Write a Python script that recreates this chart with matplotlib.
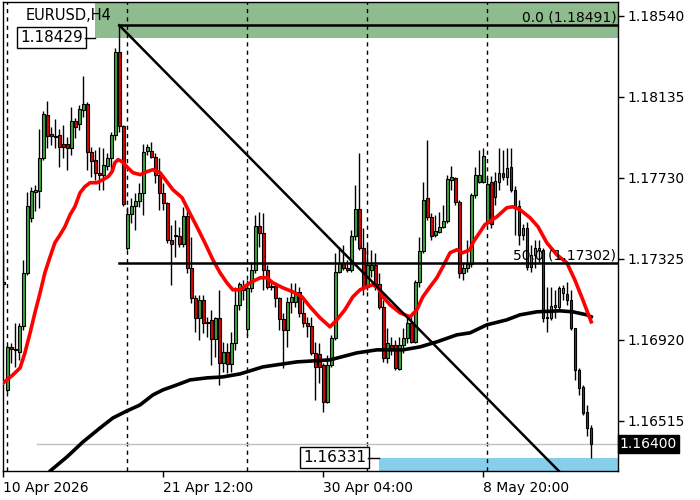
import matplotlib
matplotlib.use('Agg')
import matplotlib.pyplot as plt
from matplotlib.patches import Rectangle
import matplotlib.transforms as mtrans

# ---------------- data (EURUSD H4) ----------------
opens = [1.17210,1.16670,1.16885,1.16875,1.16860,1.16990,1.17255,1.17530,1.17660,1.17665,
         1.17830,1.18045,1.17950,1.17940,1.17945,1.17900,1.17900,1.17880,1.18015,1.18000,
         1.18070,1.18100,1.17860,1.17820,1.17755,1.17745,1.17790,1.17830,1.17945,1.18360,
         1.17990,1.17380,1.17550,1.17590,1.17615,1.17655,1.17865,1.17865,1.17835,1.17745,
         1.17655,1.17605,1.17420,1.17445,1.17440,1.17400,1.17540,1.17280,1.17130,1.17030,
         1.17120,1.17010,1.17020,1.16925,1.17030,1.16805,1.16860,1.16800,1.16905,1.17095,
         1.17190,1.16975,1.17180,1.17270,1.17490,1.17455,1.17270,1.17190,1.17190,1.17130,
         1.17025,1.16970,1.17110,1.17110,1.17160,1.17055,1.17005,1.16990,1.16855,1.16850,
         1.16795,1.16610,1.16795,1.16930,1.17260,1.17305,1.17280,1.17270,1.17440,1.17575,
         1.17380,1.17185,1.17270,1.17295,1.17200,1.17085,1.16830,1.16895,1.16895,1.16775,
         1.16895,1.16930,1.17005,1.16910,1.17210,1.17365,1.17630,1.17535,1.17445,1.17460,
         1.17485,1.17515,1.17720,1.17730,1.17610,1.17255,1.17280,1.17300,1.17645,1.17710,
         1.17710,1.17505,1.17710,1.17635,1.17710,1.17755,1.17735,1.17785,1.17670,1.17590,
         1.17445,1.17480,1.17285,1.17345,1.17370,1.17370,1.17035,1.17030,1.17085,1.17085,
         1.17155,1.17150,1.17120,1.16980,1.16770,1.16685,1.16560,1.16480]
highs = [1.17360,1.16895,1.16905,1.17005,1.17005,1.17320,1.17660,1.17685,1.17695,1.17975,
         1.18065,1.18115,1.17985,1.18025,1.17975,1.17995,1.17935,1.18085,1.18030,1.18095,
         1.18240,1.18110,1.17885,1.17870,1.17885,1.17880,1.17855,1.17960,1.18380,1.18491,
         1.17995,1.17585,1.17630,1.17655,1.17705,1.17900,1.17900,1.17910,1.17855,1.17830,
         1.17705,1.17610,1.17495,1.17520,1.17485,1.17585,1.17570,1.17435,1.17145,1.17145,
         1.17145,1.17035,1.17070,1.17035,1.17170,1.16910,1.16905,1.16960,1.17185,1.17210,
         1.17220,1.17220,1.17310,1.17545,1.17560,1.17555,1.17295,1.17210,1.17210,1.17135,
         1.17055,1.17135,1.17205,1.17205,1.17185,1.17120,1.17035,1.17035,1.16910,1.16905,
         1.16805,1.16845,1.16945,1.17355,1.17385,1.17395,1.17320,1.17470,1.17695,1.17855,
         1.17480,1.17395,1.17370,1.17355,1.17255,1.17120,1.16980,1.16935,1.16920,1.16935,
         1.16980,1.17030,1.17035,1.17220,1.17435,1.17710,1.17920,1.17555,1.17545,1.17560,
         1.17595,1.17745,1.17790,1.17735,1.17620,1.17305,1.17420,1.17655,1.17785,1.17870,
         1.17880,1.17730,1.17740,1.17760,1.17880,1.17870,1.17880,1.17880,1.17690,1.17620,
         1.17500,1.17510,1.17395,1.17420,1.17420,1.17380,1.17185,1.17185,1.17170,1.17190,
         1.17195,1.17210,1.17170,1.16980,1.16780,1.16695,1.16595,1.16495]
lows = [1.17170,1.16660,1.16805,1.16785,1.16820,1.16970,1.17245,1.17510,1.17565,1.17580,
        1.17820,1.17880,1.17895,1.17880,1.17785,1.17830,1.17770,1.17845,1.17930,1.17970,
        1.18035,1.17770,1.17735,1.17720,1.17670,1.17670,1.17770,1.17755,1.17920,1.17960,
        1.17590,1.17370,1.17505,1.17470,1.17585,1.17545,1.17845,1.17830,1.17705,1.17570,
        1.17570,1.17405,1.17195,1.17335,1.17385,1.17385,1.17255,1.17105,1.16960,1.16920,
        1.16955,1.16935,1.16795,1.16835,1.16695,1.16760,1.16755,1.16760,1.16870,1.17070,
        1.17120,1.16945,1.17160,1.17255,1.17385,1.17170,1.17175,1.17170,1.17085,1.16970,
        1.16780,1.16885,1.17055,1.17085,1.17035,1.16985,1.16935,1.16845,1.16620,1.16705,
        1.16560,1.16605,1.16785,1.16920,1.17255,1.17270,1.17260,1.17260,1.17420,1.17370,
        1.17145,1.17170,1.17235,1.17170,1.17075,1.16810,1.16805,1.16845,1.16770,1.16770,
        1.16855,1.16905,1.16905,1.16905,1.17185,1.17355,1.17520,1.17420,1.17435,1.17455,
        1.17480,1.17505,1.17670,1.17595,1.17230,1.17220,1.17260,1.17285,1.17630,1.17705,
        1.17705,1.17495,1.17480,1.17595,1.17670,1.17720,1.17695,1.17660,1.17445,1.17395,
        1.17420,1.17270,1.17260,1.17280,1.17310,1.17010,1.16960,1.17020,1.17030,1.17070,
        1.17120,1.17095,1.16970,1.16720,1.16645,1.16545,1.16440,1.16331]
closes = [1.17200,1.16885,1.16875,1.16870,1.16990,1.17255,1.17590,1.17665,1.17670,1.17830,
          1.18050,1.17940,1.17940,1.17935,1.17885,1.17885,1.17880,1.18015,1.17985,1.18075,
          1.18100,1.17860,1.17815,1.17755,1.17745,1.17795,1.17830,1.17945,1.18360,1.17990,
          1.17600,1.17550,1.17590,1.17615,1.17655,1.17860,1.17885,1.17835,1.17745,1.17655,
          1.17605,1.17420,1.17400,1.17440,1.17400,1.17540,1.17280,1.17130,1.17030,1.17120,
          1.17005,1.17005,1.16925,1.17030,1.16805,1.16860,1.16800,1.16905,1.17095,1.17200,
          1.17170,1.17180,1.17270,1.17490,1.17455,1.17270,1.17185,1.17185,1.17130,1.17025,
          1.16970,1.17110,1.17135,1.17160,1.17055,1.17005,1.16990,1.16855,1.16785,1.16785,
          1.16610,1.16795,1.16930,1.17260,1.17305,1.17280,1.17270,1.17440,1.17575,1.17380,
          1.17185,1.17295,1.17295,1.17200,1.17085,1.16830,1.16905,1.16880,1.16780,1.16895,
          1.16930,1.17005,1.16910,1.17210,1.17365,1.17620,1.17535,1.17440,1.17465,1.17485,
          1.17515,1.17725,1.17735,1.17610,1.17255,1.17280,1.17300,1.17645,1.17745,1.17745,
          1.17840,1.17700,1.17500,1.17715,1.17755,1.17735,1.17780,1.17670,1.17590,1.17445,
          1.17480,1.17285,1.17345,1.17380,1.17380,1.17030,1.17030,1.17090,1.17095,1.17180,
          1.17180,1.17120,1.16980,1.16770,1.16680,1.16555,1.16480,1.16400]

# moving averages (bar position, price)
ma_fast_idx = [0,2.4,4.2,5.4,6.7,7.9,9.2,10.4,11.7,12.9,14.2,15.4,16.7,17.9,19.2,20.4,21.7,
               23.4,24.9,26.2,27.2,27.9,28.7,29.7,30.9,32.4,34.2,35.9,37.4,39.2,40.9,42.4,
               44.7,46.2,48.4,50.4,52.4,54.2,55.9,57.4,59.2,61.7,64.2,65.9,67.4,69.9,72.4,
               74.7,76.7,79.2,81.7,83.4,85.4,87.4,89.2,90.9,92.4,93.7,94.9,96.7,99.2,101.7,
               103.4,104.9,106.7,108.4,109.9,111.7,113.4,114.9,116.7,117.4,120.4,123.4,
               125.9,127.4,129.2,131.7,133.7,135.9,138.4,140.9,142.9,144.9,147]
ma_fast = [1.16705,1.16745,1.16780,1.16855,1.16955,1.17055,1.17155,1.17255,1.17335,1.17405,
           1.17445,1.17485,1.17545,1.17585,1.17655,1.17685,1.17705,1.17705,1.17720,1.17735,
           1.17760,1.17805,1.17820,1.17810,1.17785,1.17755,1.17745,1.17760,1.17770,1.17755,
           1.17710,1.17670,1.17630,1.17570,1.17485,1.17405,1.17320,1.17255,1.17205,1.17170,
           1.17170,1.17205,1.17230,1.17230,1.17205,1.17180,1.17160,1.17135,1.17085,1.17030,
           1.16985,1.17020,1.17070,1.17135,1.17170,1.17185,1.17195,1.17180,1.17135,1.17095,
           1.17055,1.17035,1.17070,1.17135,1.17185,1.17230,1.17285,1.17355,1.17370,1.17355,
           1.17370,1.17405,1.17495,1.17535,1.17580,1.17585,1.17570,1.17530,1.17485,1.17405,
           1.17345,1.17305,1.17220,1.17120,1.17010]
ma_slow_idx = [10.5,11.7,15.9,19.9,24.2,27.4,30.9,34.2,37.4,39.9,43.4,46.7,50.9,54.9,59.2,
               64.9,73.4,81.7,88.4,93.4,99.9,104.2,108.4,113.4,116.7,120.9,125.9,129.2,
               133.4,139.2,142.4,145.9,147]
ma_slow = [1.16230,1.16265,1.16335,1.16410,1.16480,1.16530,1.16565,1.16595,1.16645,1.16670,
           1.16695,1.16720,1.16730,1.16735,1.16750,1.16785,1.16810,1.16820,1.16855,1.16870,
           1.16870,1.16885,1.16910,1.16945,1.16955,1.16995,1.17020,1.17045,1.17060,1.17065,
           1.17060,1.17045,1.17035]

x_tick_pos = [0, 40, 80, 120]
x_tick_labels = ['10 Apr 2026', '21 Apr 12:00', '30 Apr 04:00', '8 May 20:00']
y_ticks = [1.16515, 1.16920, 1.17325, 1.17730, 1.18135, 1.18540]
week_separators = [1, 31, 61, 91, 121]
fib_x = [29, 146.4]
fib_price = [1.18491, 1.16113]
fib_levels = [0.0, 0.5]
zone_high = 1.18429
zone_low = 1.16331
bid = 1.16400

# ---------------- figure ----------------
fig = plt.figure(figsize=(7, 5), dpi=100)
ax = fig.add_axes([3/700, 29/500, 615/700, 469/500])
ax.set_xlim(-0.075, 153.7)
ax.set_ylim(1.16265, 1.186075)
FS = 10
yblend = mtrans.blended_transform_factory(ax.transAxes, ax.transData)

# zones
ax.add_patch(Rectangle((22.9, zone_high), 300, 0.01, facecolor='#8fbc8f', edgecolor='none', zorder=0))
ax.add_patch(Rectangle((93.9, zone_low - 0.01), 300, 0.01, facecolor='#87ceeb', edgecolor='none', zorder=0))

# week separators
for s in week_separators:
    ax.axvline(s, color='black', lw=1, ls=(0, (3, 3)), zorder=1)

# bid line
ax.plot([8.4, 300], [bid, bid], color='#c0c0c0', lw=1, zorder=1)

# candles
idx = list(range(len(opens)))
ax.vlines(idx, lows, highs, color='black', lw=1, zorder=2)
for i in idx:
    o, c = opens[i], closes[i]
    fc = '#3aa63a' if c >= o else '#e00000'
    h = max(abs(c - o), 0.00002)
    ax.add_patch(Rectangle((i - 0.32, min(o, c)), 0.64, h, facecolor=fc,
                           edgecolor='black', lw=0.8, zorder=3))

# moving averages
ax.plot(ma_slow_idx, ma_slow, color='black', lw=2.6, zorder=4, solid_joinstyle='round')
ax.plot(ma_fast_idx, ma_fast, color='#ff0000', lw=2.6, zorder=5, solid_joinstyle='round')

# fibonacci
ax.plot(fib_x, fib_price, color='black', lw=1.8, zorder=6)
for lv in fib_levels:
    p = fib_price[0] + lv * (fib_price[1] - fib_price[0])
    ax.plot([fib_x[0], 300], [p, p], color='black', lw=1.8, zorder=6)
    ax.text(0.997, p + 0.00005, f'{lv*100:.1f} ({p:.5f})', transform=yblend,
            ha='right', va='bottom', fontsize=FS, color='black', zorder=7)

# price labels
ax.text(12.0, zone_high, f'{zone_high:.5f}', ha='center', va='center', fontsize=11,
        bbox=dict(boxstyle='square,pad=0.2', fc='white', ec='black', lw=1), zorder=8)
ax.plot([20.4, 22.9], [zone_high, zone_high], color='black', lw=1, zorder=8)
ax.text(82.8, zone_low, f'{zone_low:.5f}', ha='center', va='center', fontsize=11,
        bbox=dict(boxstyle='square,pad=0.2', fc='white', ec='black', lw=1), zorder=8)
ax.plot([91.2, 93.9], [zone_low, zone_low], color='black', lw=1, zorder=8)

ax.text(0.037, 0.972, 'EURUSD,H4', transform=ax.transAxes, ha='left', va='center', fontsize=10.5, zorder=9)

# axes styling
for sp in ax.spines.values():
    sp.set_color('black')
    sp.set_linewidth(1)
ax.yaxis.tick_right()
ax.set_yticks(y_ticks)
ax.set_yticklabels([f'{v:.5f}' for v in y_ticks], fontsize=FS)
ax.tick_params(axis='y', direction='out', length=4, width=1, pad=3)
ax.set_xticks(x_tick_pos)
ax.set_xticklabels(x_tick_labels, fontsize=FS)
for lab in ax.get_xticklabels():
    lab.set_horizontalalignment('left')
ax.tick_params(axis='x', direction='out', length=4, width=1, pad=3)

ax.text(1.003, bid, f'{bid:.5f}', transform=yblend,
        ha='left', va='center', fontsize=FS, color='white',
        bbox=dict(boxstyle='square,pad=0.15', fc='black', ec='black'), clip_on=False, zorder=10)

fig.savefig('out.png', dpi=100, facecolor='white')
